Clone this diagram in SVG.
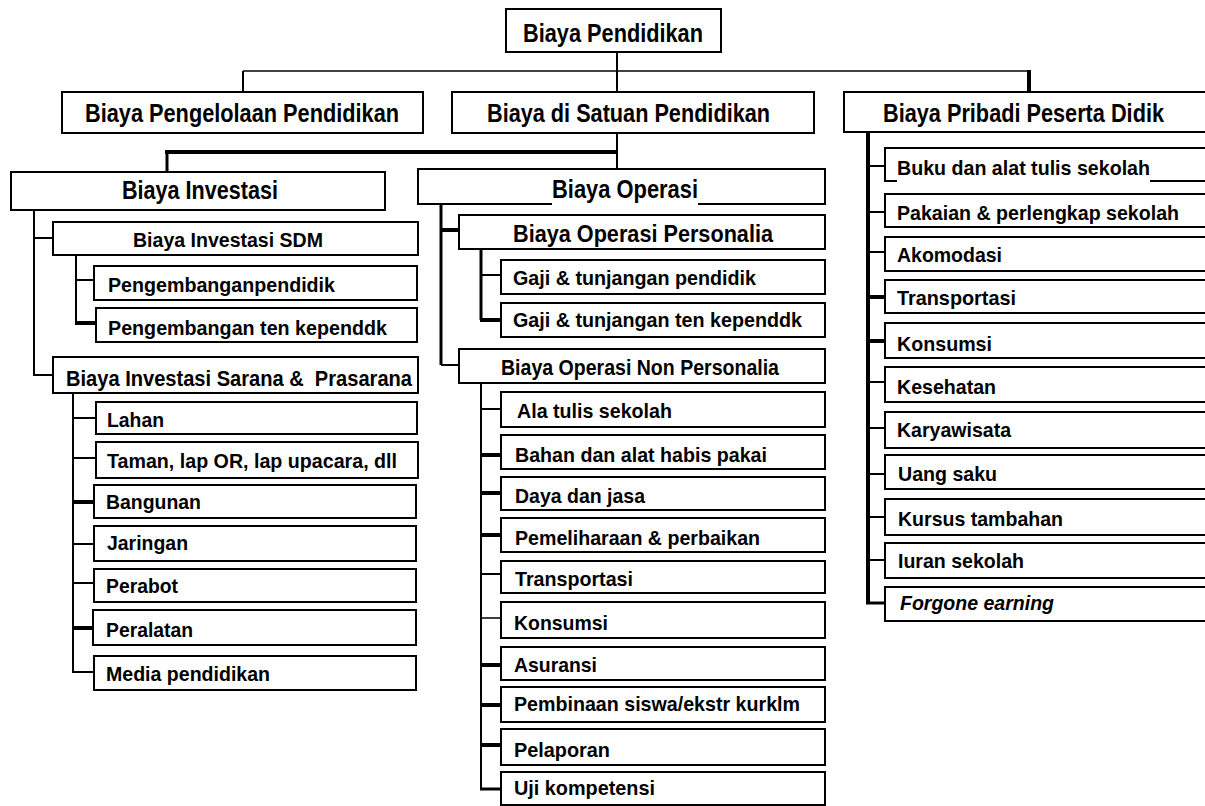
<svg xmlns="http://www.w3.org/2000/svg" width="1205" height="806" viewBox="0 0 1205 806">
<style>
.box{fill:#fff;stroke:#000;stroke-width:2}
.t{font-family:"Liberation Sans Narrow","Liberation Sans",Arial,sans-serif;font-weight:bold;fill:#000}
.s24{font-size:25px}
.s22{font-size:23px}
.s21{font-size:22px}
.s20{font-size:21px}
.s19{font-size:20px}
.it{font-style:italic}
.c{fill:none;stroke:#000;stroke-width:2}
.cf{fill:none;stroke:#000;stroke-width:1.5}
.ck{fill:none;stroke:#000;stroke-width:4}
.cm{fill:none;stroke:#000;stroke-width:3}
.gap{fill:#fff;stroke:none}
</style>
<rect width="1205" height="806" fill="#fff"/>
<g id="connectors">
<path class="c" d="M617,52 V92"/>
<path class="cf" d="M243,71 H1029"/>
<path class="c" d="M243,71 V92"/>
<path class="ck" d="M1029,70 V92"/>
<path class="c" d="M617,133 V169"/>
<path class="ck" d="M165,152 H617"/>
<path class="cm" d="M167,152 V172"/>
<path class="c" d="M34,210 V375 H53"/>
<path class="c" d="M34,238 H53"/>
<path class="c" d="M76,255 V323"/>
<path class="c" d="M76,280 H94"/>
<path class="ck" d="M75,323 H96"/>
<path class="c" d="M73,393 V672 H94"/>
<path class="c" d="M73,418 H96"/>
<path class="c" d="M73,458 H96"/>
<path class="ck" d="M73,502 H94"/>
<path class="c" d="M73,544 H94"/>
<path class="c" d="M73,583 H94"/>
<path class="ck" d="M73,628 H93"/>
<path class="cm" d="M441,204 V365"/>
<path class="c" d="M441,365 H459"/>
<path class="ck" d="M441,230 H459"/>
<path class="cm" d="M481,249 V320"/>
<path class="c" d="M481,275 H501"/>
<path class="ck" d="M480,320 H501"/>
<path class="c" d="M481,383 V789"/>
<path class="c" d="M481,409 H501"/>
<path class="ck" d="M481,455 H501"/>
<path class="ck" d="M481,493 H501"/>
<path class="ck" d="M481,535 H501"/>
<path class="c" d="M481,574 H501"/>
<path class="cf" d="M481,618 H501"/>
<path class="ck" d="M481,665 H501"/>
<path class="ck" d="M481,705 H501"/>
<path class="ck" d="M481,745 H501"/>
<path class="cm" d="M480,789 H501"/>
<path class="ck" d="M868,132 V604"/>
<path class="c" d="M868,166 H885"/>
<path class="c" d="M868,212 H885"/>
<path class="c" d="M868,252 H885"/>
<path class="ck" d="M868,297 H885"/>
<path class="ck" d="M868,341 H885"/>
<path class="c" d="M868,382 H885"/>
<path class="c" d="M868,428 H885"/>
<path class="c" d="M868,474 H885"/>
<path class="c" d="M868,517 H885"/>
<path class="c" d="M868,560 H885"/>
<path class="cm" d="M866,603 H885"/>
</g>
<g id="n-root"><rect class="box" x="506" y="9" width="215" height="43"/><text class="t s24" x="523" y="42" textLength="180" lengthAdjust="spacingAndGlyphs">Biaya Pendidikan</text></g>
<g id="n-pengelolaan"><rect class="box" x="62" y="92" width="361" height="41"/><text class="t s24" x="85" y="122" textLength="314" lengthAdjust="spacingAndGlyphs">Biaya Pengelolaan Pendidikan</text></g>
<g id="n-satuan"><rect class="box" x="452" y="92" width="362" height="41"/><text class="t s24" x="487" y="122" textLength="283" lengthAdjust="spacingAndGlyphs">Biaya di Satuan Pendidikan</text></g>
<g id="n-pribadi"><rect class="box" x="844" y="92" width="370" height="40"/><text class="t s24" x="883" y="122" textLength="281" lengthAdjust="spacingAndGlyphs">Biaya Pribadi Peserta Didik</text></g>
<g id="n-investasi"><rect class="box" x="11" y="172" width="374" height="38"/><text class="t s24" x="122" y="199" textLength="156" lengthAdjust="spacingAndGlyphs">Biaya Investasi</text></g>
<g id="n-operasi"><rect class="box" x="418" y="169" width="407" height="35"/><rect class="gap" x="552" y="202" width="146" height="4"/><text class="t s24" x="552" y="198" textLength="146" lengthAdjust="spacingAndGlyphs">Biaya Operasi</text></g>
<g id="n-inv-sdm"><rect class="box" x="53" y="222" width="365" height="33"/><text class="t s19" x="133" y="247" textLength="190" lengthAdjust="spacingAndGlyphs">Biaya Investasi SDM</text></g>
<g id="n-pengembangan-pendidik"><rect class="box" x="94" y="266" width="323" height="34"/><text class="t s20" x="108" y="292" textLength="227" lengthAdjust="spacingAndGlyphs">Pengembanganpendidik</text></g>
<g id="n-pengembangan-ten"><rect class="box" x="96" y="308" width="321" height="34"/><text class="t s20" x="108" y="335" textLength="279" lengthAdjust="spacingAndGlyphs">Pengembangan ten kependdk</text></g>
<g id="n-inv-sarana"><rect class="box" x="53" y="357" width="365" height="36"/><text class="t s21" x="66" y="386" textLength="346" lengthAdjust="spacingAndGlyphs" xml:space="preserve">Biaya Investasi Sarana &amp;  Prasarana</text></g>
<g id="n-lahan"><rect class="box" x="96" y="402" width="321" height="32"/><text class="t s20" x="107" y="427" textLength="57" lengthAdjust="spacingAndGlyphs">Lahan</text></g>
<g id="n-taman"><rect class="box" x="96" y="442" width="322" height="36"/><text class="t s20" x="107" y="468" textLength="290" lengthAdjust="spacingAndGlyphs">Taman, lap OR, lap upacara, dll</text></g>
<g id="n-bangunan"><rect class="box" x="94" y="485" width="322" height="33"/><text class="t s20" x="106" y="509" textLength="95" lengthAdjust="spacingAndGlyphs">Bangunan</text></g>
<g id="n-jaringan"><rect class="box" x="94" y="526" width="322" height="35"/><text class="t s20" x="107" y="550" textLength="81" lengthAdjust="spacingAndGlyphs">Jaringan</text></g>
<g id="n-perabot"><rect class="box" x="94" y="569" width="322" height="33"/><text class="t s20" x="106" y="593" textLength="72" lengthAdjust="spacingAndGlyphs">Perabot</text></g>
<g id="n-peralatan"><rect class="box" x="93" y="610" width="323" height="35"/><text class="t s20" x="106" y="637" textLength="87" lengthAdjust="spacingAndGlyphs">Peralatan</text></g>
<g id="n-media"><rect class="box" x="94" y="656" width="322" height="34"/><text class="t s20" x="106" y="681" textLength="164" lengthAdjust="spacingAndGlyphs">Media pendidikan</text></g>
<g id="n-op-personalia"><rect class="box" x="459" y="215" width="366" height="34"/><text class="t s22" x="513" y="242" textLength="260" lengthAdjust="spacingAndGlyphs">Biaya Operasi Personalia</text></g>
<g id="n-gaji-pendidik"><rect class="box" x="501" y="260" width="324" height="34"/><text class="t s20" x="513" y="285" textLength="243" lengthAdjust="spacingAndGlyphs">Gaji &amp; tunjangan pendidik</text></g>
<g id="n-gaji-ten"><rect class="box" x="501" y="303" width="324" height="34"/><text class="t s20" x="513" y="327" textLength="289" lengthAdjust="spacingAndGlyphs">Gaji &amp; tunjangan ten kependdk</text></g>
<g id="n-op-nonpersonalia"><rect class="box" x="459" y="349" width="366" height="34"/><text class="t s21" x="501" y="375" textLength="278" lengthAdjust="spacingAndGlyphs">Biaya Operasi Non Personalia</text></g>
<g id="n-ala-tulis"><rect class="box" x="501" y="392" width="324" height="35"/><text class="t s20" x="517" y="418" textLength="155" lengthAdjust="spacingAndGlyphs">Ala tulis sekolah</text></g>
<g id="n-bahan"><rect class="box" x="501" y="435" width="324" height="34"/><text class="t s20" x="515" y="462" textLength="252" lengthAdjust="spacingAndGlyphs">Bahan dan alat habis pakai</text></g>
<g id="n-daya"><rect class="box" x="501" y="477" width="324" height="33"/><text class="t s20" x="515" y="503" textLength="130" lengthAdjust="spacingAndGlyphs">Daya dan jasa</text></g>
<g id="n-pemeliharaan"><rect class="box" x="501" y="518" width="324" height="34"/><text class="t s20" x="515" y="545" textLength="245" lengthAdjust="spacingAndGlyphs">Pemeliharaan &amp; perbaikan</text></g>
<g id="n-op-transportasi"><rect class="box" x="501" y="561" width="324" height="32"/><text class="t s20" x="515" y="586" textLength="118" lengthAdjust="spacingAndGlyphs">Transportasi</text></g>
<g id="n-op-konsumsi"><rect class="box" x="501" y="602" width="324" height="36"/><text class="t s20" x="514" y="630" textLength="94" lengthAdjust="spacingAndGlyphs">Konsumsi</text></g>
<g id="n-asuransi"><rect class="box" x="501" y="647" width="324" height="33"/><text class="t s20" x="514" y="672" textLength="83" lengthAdjust="spacingAndGlyphs">Asuransi</text></g>
<g id="n-pembinaan"><rect class="box" x="501" y="687" width="324" height="35"/><text class="t s20" x="514" y="711" textLength="286" lengthAdjust="spacingAndGlyphs">Pembinaan siswa/ekstr kurklm</text></g>
<g id="n-pelaporan"><rect class="box" x="501" y="729" width="324" height="36"/><text class="t s20" x="514" y="757" textLength="96" lengthAdjust="spacingAndGlyphs">Pelaporan</text></g>
<g id="n-uji"><rect class="box" x="501" y="772" width="324" height="33"/><text class="t s20" x="514" y="795" textLength="141" lengthAdjust="spacingAndGlyphs">Uji kompetensi</text></g>
<g id="n-buku"><rect class="box" x="885" y="148" width="330" height="33"/><rect class="gap" x="897" y="179" width="253" height="4"/><text class="t s20" x="897" y="175" textLength="253" lengthAdjust="spacingAndGlyphs">Buku dan alat tulis sekolah</text></g>
<g id="n-pakaian"><rect class="box" x="885" y="194" width="330" height="33"/><text class="t s20" x="897" y="220" textLength="282" lengthAdjust="spacingAndGlyphs">Pakaian &amp; perlengkap sekolah</text></g>
<g id="n-akomodasi"><rect class="box" x="885" y="237" width="330" height="34"/><text class="t s20" x="897" y="262" textLength="105" lengthAdjust="spacingAndGlyphs">Akomodasi</text></g>
<g id="n-pr-transportasi"><rect class="box" x="885" y="280" width="330" height="33"/><text class="t s20" x="897" y="305" textLength="119" lengthAdjust="spacingAndGlyphs">Transportasi</text></g>
<g id="n-pr-konsumsi"><rect class="box" x="885" y="323" width="330" height="35"/><text class="t s20" x="897" y="351" textLength="95" lengthAdjust="spacingAndGlyphs">Konsumsi</text></g>
<g id="n-kesehatan"><rect class="box" x="885" y="367" width="330" height="35"/><text class="t s20" x="897" y="394" textLength="99" lengthAdjust="spacingAndGlyphs">Kesehatan</text></g>
<g id="n-karyawisata"><rect class="box" x="885" y="412" width="330" height="36"/><text class="t s20" x="897" y="437" textLength="114" lengthAdjust="spacingAndGlyphs">Karyawisata</text></g>
<g id="n-uang-saku"><rect class="box" x="885" y="455" width="330" height="34"/><text class="t s20" x="898" y="481" textLength="99" lengthAdjust="spacingAndGlyphs">Uang saku</text></g>
<g id="n-kursus"><rect class="box" x="885" y="499" width="330" height="36"/><text class="t s20" x="898" y="526" textLength="165" lengthAdjust="spacingAndGlyphs">Kursus tambahan</text></g>
<g id="n-iuran"><rect class="box" x="885" y="543" width="330" height="35"/><text class="t s20" x="898" y="568" textLength="126" lengthAdjust="spacingAndGlyphs">Iuran sekolah</text></g>
<g id="n-forgone"><rect class="box" x="885" y="587" width="330" height="34"/><text class="t s20 it" x="900" y="610" textLength="154" lengthAdjust="spacingAndGlyphs">Forgone earning</text></g>
</svg>
